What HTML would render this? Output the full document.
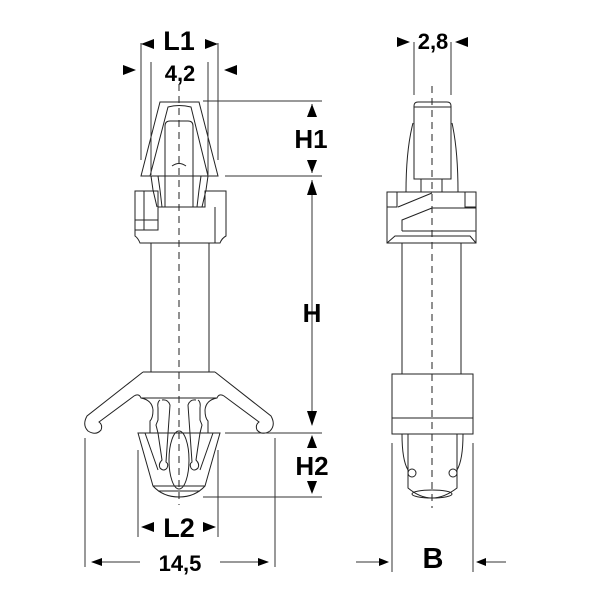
<!DOCTYPE html>
<html><head><meta charset="utf-8"><style>
html,body{margin:0;padding:0;background:#fff}
svg{display:block}
text{font-family:"Liberation Sans",Arial,sans-serif;font-weight:bold;fill:#000;text-anchor:middle}
</style></head><body>
<svg width="600" height="600" viewBox="0 0 600 600" xmlns="http://www.w3.org/2000/svg">
<g fill="none" stroke="#222" stroke-width="1">
<line x1="179" y1="84" x2="179" y2="505" stroke-dasharray="7,5"/>
<line x1="432" y1="86" x2="432" y2="508" stroke-dasharray="7,5"/>

<path d="M141,176 L160,102 L199,102 L218,176 Z"/>
<path d="M150,176 L168,107 Q179,104 191,107 L208,176"/>
<path d="M165,207 L165,126 Q165,121 170,121 L188,121 Q193,121 193,126 L193,207"/>
<path d="M172,166 Q179,161 186,166"/>
<path d="M151,176 L153,190 L157,207 M208,176 L206,190 L202,207"/>
<path d="M158,176 L160,190 L162,207 M201,176 L199,190 L197,207"/>
<path d="M135,191 L158,191 L158,207 L205,207 L205,191 L226,191 L226,236 Q222,238 220,243 L140,243 Q138,238 135,236 Z"/>
<path d="M144,191 L144,230 M135,220 L158,220 L158,207 M135,230 L158,230 L158,207"/>
<path d="M215,207 L215,243"/>
<line x1="151" y1="243" x2="151" y2="372"/>
<line x1="209" y1="243" x2="209" y2="372"/>
<path d="M143,372 L215,372"/>
<path d="M143,372 L87,416 Q82,425 88,431 Q96,436 101,430 Q103,425 99,422 L134,396 Q139,393 141,398 L217,398 Q219,393 224,396 L259,422 Q255,425 257,430 Q262,436 270,431 Q276,425 271,416 L215,372"/>
<path d="M141,398 Q152,400 153,410 Q153,418 150,421 L150,433"/>
<path d="M217,398 Q206,400 205,410 Q205,418 208,421 L208,433"/>
<path d="M160,400 Q157,402 158,408 L158,420 L156,425 L158,433 L162,460 Q158,464 160,468 Q164,472 167,468 Q169,464 166,462 L170,405 Q168,399 162,400"/>
<path d="M198,400 Q201,402 200,408 L200,420 L202,425 L200,433 L196,460 Q200,464 198,468 Q194,472 191,468 Q189,464 192,462 L188,405 Q190,399 196,400"/>
<path d="M138,433 L220,433 L205,486 Q195,497 179,497 Q163,497 153,486 Z"/>
<path d="M145,433 L158,470 M213,433 L200,470"/>
<path d="M153,486 L205,486"/>
<path d="M158,491 L200,491"/>
<ellipse cx="179" cy="460" rx="10" ry="29"/>

<g stroke="#333">
<line x1="141" y1="43" x2="141" y2="160"/>
<line x1="218" y1="43" x2="218" y2="160"/>
<line x1="151" y1="62" x2="151" y2="175"/>
<line x1="208" y1="62" x2="208" y2="175"/>
<line x1="203" y1="101" x2="322" y2="101"/>
<line x1="225" y1="176" x2="322" y2="176"/>
<line x1="312" y1="104" x2="312" y2="117"/>
<line x1="312" y1="160" x2="312" y2="173"/>
<line x1="312" y1="180" x2="312" y2="425"/>
<line x1="225" y1="433" x2="322" y2="433"/>
<line x1="203" y1="497" x2="322" y2="497"/>
<line x1="138" y1="450" x2="138" y2="537"/>
<line x1="218" y1="450" x2="218" y2="537"/>
<line x1="85" y1="438" x2="85" y2="567"/>
<line x1="275" y1="438" x2="275" y2="567"/>
<line x1="92" y1="562" x2="140" y2="562"/>
<line x1="220" y1="562" x2="268" y2="562"/>
</g>

<path d="M414,179 L414,106 Q414,102 418,102 L447,102 Q451,102 451,106 L451,179 Z"/>
<line x1="414" y1="107" x2="451" y2="107"/>
<path d="M413,123 Q406,150 406,192 M452,123 Q458,150 458,192"/>
<path d="M421,179 L421,192 M442,179 L442,192"/>
<rect x="387" y="192" width="89" height="51"/>
<path d="M397,192 L397,207 L387,207 M398,207 L432,193 M465,192 L465,207 L476,207 M432,208 L476,208"/>
<path d="M402,231 L402,220 L432,208 M402,231 L476,231"/>
<path d="M387,243 L395,236 L470,236 L476,243"/>
<line x1="402" y1="243" x2="402" y2="374"/>
<line x1="461" y1="243" x2="461" y2="374"/>
<rect x="392" y="374" width="81" height="60"/>
<line x1="392" y1="418" x2="473" y2="418"/>
<path d="M402,434 Q402,460 408,470 M463,434 Q463,460 457,470"/>
<path d="M408,434 L408,488 Q420,498 432,498 Q444,498 457,488 L457,434"/>
<circle cx="412" cy="473" r="4" fill="#fff"/>
<circle cx="453" cy="473" r="4" fill="#fff"/>
<ellipse cx="432" cy="494" rx="20" ry="4"/>

<g stroke="#333">
<line x1="414" y1="42" x2="414" y2="95"/>
<line x1="451" y1="42" x2="451" y2="95"/>
<line x1="392" y1="443" x2="392" y2="572"/>
<line x1="473" y1="443" x2="473" y2="572"/>
<line x1="356" y1="562" x2="382" y2="562"/>
<line x1="484" y1="562" x2="506" y2="562"/>
</g>
</g>

<g fill="#000">
<polygon points="141,44 154,39 154,49"/>
<polygon points="218,44 205,39 205,49"/>
<polygon points="136,70 123,65 123,75"/>
<polygon points="224,70 237,65 237,75"/>
<polygon points="312,104 307,117 317,117"/>
<polygon points="312,173 307,160 317,160"/>
<polygon points="312,180 307,195 317,195"/>
<polygon points="312,426 307,411 317,411"/>
<polygon points="312,435 307,448 317,448"/>
<polygon points="312,494 307,481 317,481"/>
<polygon points="141,527 154,522 154,532"/>
<polygon points="216,527 203,522 203,532"/>
<polygon points="91,562 102,558 102,566"/>
<polygon points="269,562 258,558 258,566"/>
<polygon points="410,42 397,37 397,47"/>
<polygon points="455,42 468,37 468,47"/>
<polygon points="389,562 379,558 379,566"/>
<polygon points="476,562 486,558 486,566"/>
</g>

<text x="179" y="50" font-size="27">L1</text>
<text x="180" y="81" font-size="22">4,2</text>
<text x="311" y="148" font-size="26">H1</text>
<text x="312" y="322" font-size="26">H</text>
<text x="312" y="475" font-size="26">H2</text>
<text x="179" y="537" font-size="27">L2</text>
<text x="180" y="571" font-size="22">14,5</text>
<text x="433" y="49" font-size="22">2,8</text>
<text x="433" y="568" font-size="29">B</text>
</svg>
</body></html>
